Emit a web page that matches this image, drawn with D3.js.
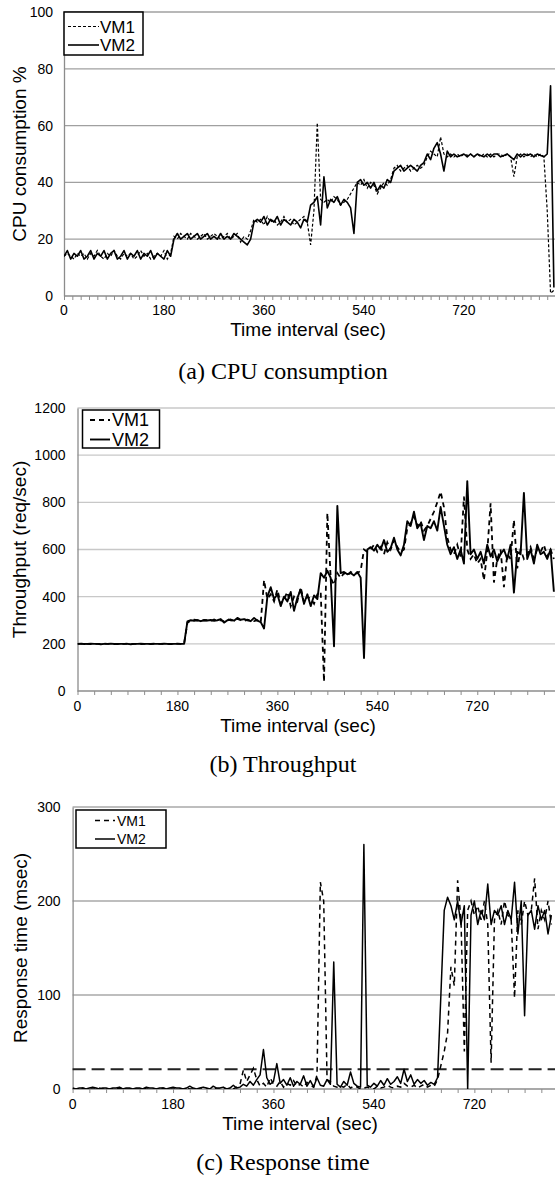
<!DOCTYPE html>
<html><head><meta charset="utf-8">
<script src="https://cdn.jsdelivr.net/npm/d3@7/dist/d3.min.js"></script>
<style>
body{margin:0;background:#fff}
svg{display:block}
text{font-family:"Liberation Sans",Arial,sans-serif;fill:#000}
.cap{font-family:"Liberation Serif","Times New Roman",serif}
</style>
</head><body>
<svg id="chart" width="555" height="1179"></svg>
<script>
// ---- data (sample every 6 s) ----
const STEP = 6;
const xTickLabels = [0, 180, 360, 540, 720];
const cpuTicks = [0, 20, 40, 60, 80, 100];
const thrTicks = [0, 200, 400, 600, 800, 1000, 1200];
const rtTicks = [0, 100, 200, 300];
const seriesNames = ["VM1", "VM2"];
const captions = ["(a)  CPU consumption", "(b)  Throughput", "(c)  Response time"];
const yTitles = ["CPU consumption %", "Throughput (req/sec)", "Response time (msec)"];
const xTitle = "Time interval (sec)";
const rtThreshold = [21];

const cpuVM1 = [14,15,14,13,15,14,15,13,15,14,16,14,13,15,14,16,14,13,15,14,15,13,14,16,14,15,13,14,15,14,16,13,15,
  21,20,22,21,20,22,21,20,21,22,20,21,22,21,20,21,22,20,21,22,19,21,
  20,23,27,
  26,27,25,28,26,27,25,26,28,26,27,25,26,27,28,26,
  18,30,61,34,33,34,
  33,35,34,32,33,34,36,
  38,40,
  39,41,38,40,39,36,38,40,39,41,
  45,
  46,44,45,46,44,45,46,45,
  46,49,51,50,49,56,50,49,
  50,49,50,49,50,49.5,50,49,50,49,50,49,50,49,50,50,49,50,49,42,49,50,49,50,49,50,49,50,49,
  30,1,2];
const cpuVM2 = [14,16,13,15,14,16,13,14,16,13,15,14,16,13,15,16,13,14,16,13,15,14,16,13,15,14,16,13,15,14,13,16,14,
  20,22,20,21,22,20,21,22,20,21,22,20,21,20,22,20,21,20,22,21,20,19,
  18,20,26,
  27,26,28,25,27,26,28,25,27,26,25,27,26,24,27,26,
  32,33,35,25,42,31,
  34,33,35,32,34,33,31,
  22,40,
  41,39,40,38,40,37,39,38,41,40,
  44,
  45,46,44,45,46,45,44,46,
  47,50,48,52,54,50,44,51,
  49,50,49,49.5,50,49,50,49,50,49.5,49,50,49,50,50,49,49.5,50,49,48,50,49,50,49.5,50,49,50,49.5,49,
  50,74,3];

const thrVM1 = [200,201,200,200,199,200,200,200,201,200,200,199,200,200,200,201,200,200,200,199,200,200,200,201,200,200,200,200,199,200,201,200,200,
  290,
  298,302,300,297,301,300,296,303,299,300,295,304,300,298,306,300,297,302,299,296,300,290,
  470,390,
  410,380,430,370,390,420,360,400,380,440,375,400,390,370,410,
  420,39,755,480,450,500,480,
  500,490,505,495,500,
  510,600,590,
  600,620,590,610,580,630,600,640,610,590,600,
  690,710,740,700,720,680,700,730,760,800,845,780,
  650,
  600,580,620,570,824,600,560,
  580,540,560,470,590,796,460,560,600,440,580,560,725,520,600,560,580,610,560,600,590,620,570,600,560];
const thrVM2 = [200,200,199,200,201,200,200,198,200,200,201,200,199,200,200,200,198,200,200,201,200,200,199,200,200,200,201,200,199,200,200,200,200,
  295,
  300,298,300,296,300,299,301,298,300,305,290,300,303,298,310,302,305,300,296,310,298,292,
  265,400,
  440,390,410,360,400,380,420,340,395,430,370,410,360,405,390,
  500,480,510,480,190,785,500,
  505,495,500,490,505,
  480,140,600,
  610,595,620,600,640,590,605,650,600,575,620,
  720,700,760,690,710,640,700,690,720,680,780,700,
  620,
  580,610,560,600,540,890,580,
  600,560,590,540,620,570,600,550,580,600,560,620,417,590,580,840,560,600,540,620,580,590,560,600,421];

const rtVM1 = [0,0,0,1,0,0,0,0,1,0,0,0,0,0,1,0,0,0,0,0,0,1,0,0,0,0,0,1,0,0,0,0,0,0,1,0,0,0,0,0,0,0,1,0,0,0,0,0,0,2,
  5,20,8,15,22,10,3,6,2,12,5,3,8,2,6,4,9,3,5,2,7,4,2,
  15,220,200,10,8,3,2,
  3,2,5,1,3,2,0,1,2,1,0,3,1,2,4,2,1,3,2,6,3,2,4,1,3,5,2,4,3,
  10,25,40,60,130,110,222,180,40,190,200,185,195,180,200,175,28,180,190,175,200,185,180,97,190,175,200,185,190,224,170,190,180,200,175];
const rtVM2 = [1,0,1,1,0,1,2,1,0,1,1,0,1,1,2,0,1,1,0,1,1,0,2,1,1,0,1,1,0,1,2,1,1,0,1,3,1,0,1,2,1,0,3,1,1,2,0,1,4,1,
  2,5,3,8,4,10,15,42,12,5,8,27,6,10,4,12,3,8,5,14,3,9,2,12,4,3,10,
  5,135,5,2,8,4,18,6,3,2,260,4,2,6,3,9,4,11,5,8,13,6,21,8,15,5,10,6,9,4,7,5,12,
  100,190,204,195,180,200,175,195,0,185,200,175,190,180,218,175,190,185,195,175,190,180,220,165,200,78,185,190,170,195,180,190,165,185];

// ---- drawing ----
const svg = d3.select("#chart");

function panel(cfg) {
  const g = svg.append("g");
  const x = d3.scaleLinear().domain([0, cfg.tmax]).range([cfg.left, 555]);
  const y = d3.scaleLinear().domain([0, cfg.ymax]).range([cfg.bottom, cfg.top]);
  const clipId = "clip" + cfg.id;
  svg.append("clipPath").attr("id", clipId).append("rect")
    .attr("x", cfg.left).attr("y", cfg.top - 20).attr("width", 555 - cfg.left).attr("height", cfg.bottom - cfg.top + 20);

  // gridlines
  g.selectAll(".grid").data(cfg.yticks.filter(d => d > 0)).enter().append("line")
    .attr("x1", cfg.left).attr("x2", 555).attr("y1", d => y(d)).attr("y2", d => y(d))
    .attr("stroke", cfg.gridColor).attr("stroke-width", 1.3);

  // y axis
  const ya = d3.axisLeft(y).tickValues(cfg.yticks).tickSize(0).tickPadding(cfg.yPad).tickFormat(d3.format("d"));
  const yg = g.append("g").attr("transform", `translate(${cfg.left},0)`).call(ya);
  yg.select(".domain").attr("stroke", "#8c8c8c").attr("stroke-width", 1.3);
  yg.selectAll("text").style("font-size", cfg.tickFont + "px").attr("fill", "#000");

  // x axis: minor ticks + labels
  const minor = d3.range(0, cfg.tmax, cfg.tickStep);
  const xa = d3.axisBottom(x).tickValues(minor).tickSize(cfg.tickLen).tickFormat("");
  const xg = g.append("g").attr("transform", `translate(0,${cfg.bottom})`).call(xa);
  xg.select(".domain").attr("stroke", "#8c8c8c").attr("stroke-width", 1.3).attr("d", `M${cfg.left},0H555`);
  xg.selectAll(".tick line").attr("stroke", "#8c8c8c");
  g.selectAll(".xlab").data(xTickLabels).enter().append("text")
    .attr("x", d => x(d)).attr("y", cfg.bottom + cfg.xLabDy).attr("text-anchor", "middle")
    .style("font-size", cfg.tickFont + "px").text(d => d);

  // titles
  g.append("text").attr("x", cfg.xTitleX).attr("y", cfg.bottom + cfg.xTitleDy).attr("text-anchor", "middle")
    .style("font-size", "19px").text(xTitle);
  g.append("text").attr("transform", `translate(${cfg.yTitleX},${(cfg.top + cfg.bottom) / 2}) rotate(-90)`)
    .attr("text-anchor", "middle").attr("dy", "0.35em").style("font-size", "19px").text(cfg.yTitle);
  g.append("text").attr("class", "cap").attr("x", 283).attr("y", cfg.capY).attr("text-anchor", "middle")
    .style("font-size", "24px").text(cfg.caption);

  // extra horizontal reference (threshold)
  if (cfg.threshold) {
    g.selectAll(".thr").data(cfg.threshold).enter().append("line")
      .attr("x1", cfg.left).attr("x2", 555).attr("y1", d => y(d)).attr("y2", d => y(d))
      .attr("stroke", "#222").attr("stroke-width", 1.8).attr("stroke-dasharray", "13,6");
  }

  // series
  const line = d3.line().x((d, i) => x(i * STEP)).y(d => y(d));
  const plot = g.append("g").attr("clip-path", `url(#${clipId})`);
  plot.append("path").datum(cfg.vm1).attr("d", line).attr("fill", "none")
    .attr("stroke", "#000").attr("stroke-width", cfg.w1).attr("stroke-dasharray", cfg.dash);
  plot.append("path").datum(cfg.vm2).attr("d", line).attr("fill", "none")
    .attr("stroke", "#000").attr("stroke-width", cfg.w2).attr("stroke-linejoin", "round");

  // legend
  const L = cfg.legend;
  g.append("rect").attr("x", L.x).attr("y", L.y).attr("width", L.w).attr("height", L.h)
    .attr("fill", "#fff").attr("stroke", "#000").attr("stroke-width", 1.5);
  seriesNames.forEach((name, k) => {
    const ly = L.rows[k];
    g.append("line").attr("x1", L.lx1).attr("x2", L.lx2).attr("y1", ly).attr("y2", ly)
      .attr("stroke", "#000").attr("stroke-width", k === 0 ? cfg.w1 : cfg.w2)
      .attr("stroke-dasharray", k === 0 ? cfg.dash : null);
    g.append("text").attr("x", L.tx).attr("y", ly).attr("dy", "0.36em")
      .style("font-size", L.font + "px").text(name);
  });
}

panel({id: "a", left: 64, top: 12, bottom: 296, tmax: 884, ymax: 100, yticks: cpuTicks,
  tickStep: 15, tickLen: 4, gridColor: "#a0a0a0", tickFont: 14, yPad: 11,
  xLabDy: 19, xTitleDy: 40, xTitleX: 308, yTitle: yTitles[0], yTitleX: 19, capY: 379, caption: captions[0],
  vm1: cpuVM1, vm2: cpuVM2, w1: 1.2, w2: 1.6, dash: "3,2",
  legend: {x: 64, y: 12, w: 79, h: 43, rows: [26.5, 45], lx1: 68, lx2: 99, tx: 100, font: 17}});

panel({id: "b", left: 77.5, top: 408, bottom: 691, tmax: 860, ymax: 1200, yticks: thrTicks,
  tickStep: 30, tickLen: 4, gridColor: "#c8c8c8", tickFont: 14, yPad: 12,
  xLabDy: 20, xTitleDy: 41, xTitleX: 298, yTitle: yTitles[1], yTitleX: 19, capY: 772, caption: captions[1],
  vm1: thrVM1, vm2: thrVM2, w1: 1.8, w2: 1.9, dash: "5,4",
  legend: {x: 82.5, y: 410, w: 77, h: 38, rows: [420, 439.5], lx1: 90, lx2: 110, tx: 112, font: 18}});

panel({id: "c", left: 72.6, top: 807, bottom: 1089, tmax: 864.5, ymax: 300, yticks: rtTicks,
  tickStep: 30, tickLen: 4, gridColor: "#a8a8a8", tickFont: 14, yPad: 12,
  xLabDy: 20, xTitleDy: 41, xTitleX: 300, yTitle: yTitles[2], yTitleX: 20, capY: 1170, caption: captions[2],
  vm1: rtVM1, vm2: rtVM2, w1: 1.5, w2: 1.5, dash: "5,4", threshold: rtThreshold,
  legend: {x: 76, y: 810, w: 90, h: 38, rows: [820.5, 839], lx1: 95, lx2: 115, tx: 117, font: 14}});
</script>
</body></html>
